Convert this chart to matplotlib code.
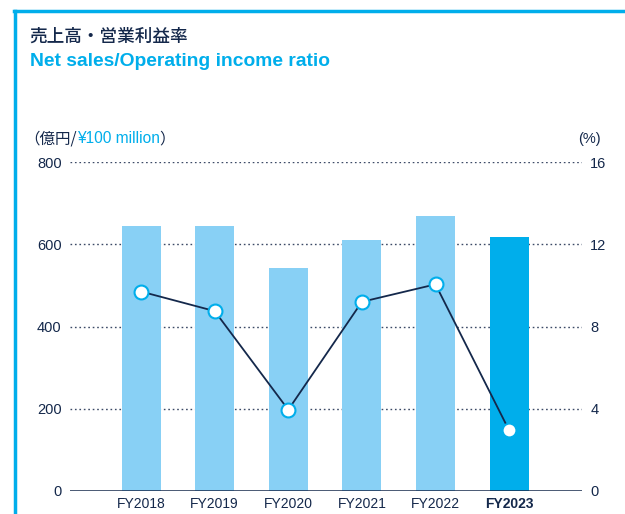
import matplotlib

matplotlib.use("Agg")
import matplotlib.pyplot as plt
from matplotlib.lines import Line2D

plt.rcParams['font.family'] = ['Liberation Sans', 'Noto Sans CJK JP', 'DejaVu Sans']

# data
years = ["FY2018", "FY2019", "FY2020", "FY2021", "FY2022", "FY2023"]
net_sales = [644, 644, 542, 610, 669, 618]
op_ratio = [9.7, 8.75, 3.95, 9.2, 10.05, 2.95]
left_ticks = [0, 200, 400, 600, 800]
right_ticks = [0, 4, 8, 12, 16]

navy = "#14284b"
blue = "#00aeeb"
light = "#88d0f5"

fig = plt.figure(figsize=(6.25, 5.14), dpi=100)
W, H = 625, 514

# frame lines (top and left)
fig.add_artist(Line2D([14 / W, 1], [1 - 11 / H, 1 - 11 / H], color=blue, lw=2.5))
fig.add_artist(Line2D([15 / W, 15 / W], [0, 1 - 11 / H], color=blue, lw=2.5))

# titles
fig.text(29 / W, 1 - 37 / H, "売上高・営業利益率", color=navy, fontsize=12.7,
         family=['Noto Sans CJK JP'], va="center", weight="medium")
fig.text(30 / W, 1 - 61 / H, "Net sales/Operating income ratio", color=blue,
         fontsize=13.9, weight="bold", va="center")

# axes
ax = fig.add_axes([70 / W, 1 - 491 / H, 512 / W, 329 / H])
x = list(range(len(years)))
colors = [light] * (len(years) - 1) + [blue]
ax.bar(x, net_sales, width=0.53, color=colors, zorder=2)
ax.set_ylim(0, 800)
ax.set_xlim(-0.965, 5.99)
ax.set_yticks(left_ticks)
for t in left_ticks[1:]:
    ax.axhline(t, color="#3c4a66", lw=1, ls=(0, (1.2, 2)), zorder=1)
ax.axhline(0, color=navy, lw=1.8, zorder=3)

for s in ax.spines.values():
    s.set_visible(False)
ax.tick_params(length=0, labelsize=10.5, colors=navy, pad=6)
ax.set_xticks(x)
ax.set_xticklabels(years)
ax.get_xticklabels()[-1].set_fontweight("bold")
ax.tick_params(axis="x", labelsize=10, pad=4)

ax2 = ax.twinx()
ax2.set_ylim(0, 16)
ax2.set_yticks(right_ticks)
for s in ax2.spines.values():
    s.set_visible(False)
ax2.tick_params(length=0, labelsize=10.5, colors=navy, pad=6)
ax2.plot(x, op_ratio, color=navy, lw=1.3, marker="o", markersize=10,
         markerfacecolor="white", markeredgecolor=blue, markeredgewidth=1.5, zorder=4)

# unit labels, chained one after another
fig.canvas.draw()
r = fig.canvas.get_renderer()
xpos = 24
for s, c, fam in [("（億円/", navy, ['Noto Sans CJK JP']),
                  ("¥100 million", blue, ['Liberation Sans']),
                  ("）", navy, ['Noto Sans CJK JP'])]:
    t = fig.text(xpos / W, 1 - 139 / H, s, color=c, fontsize=11.2, va="center", family=fam)
    xpos = t.get_window_extent(r).x1
fig.text(601 / W, 1 - 139 / H, "(%)", color=navy, fontsize=10.5, va="center", ha="right")

fig.savefig("out.png", dpi=100)
